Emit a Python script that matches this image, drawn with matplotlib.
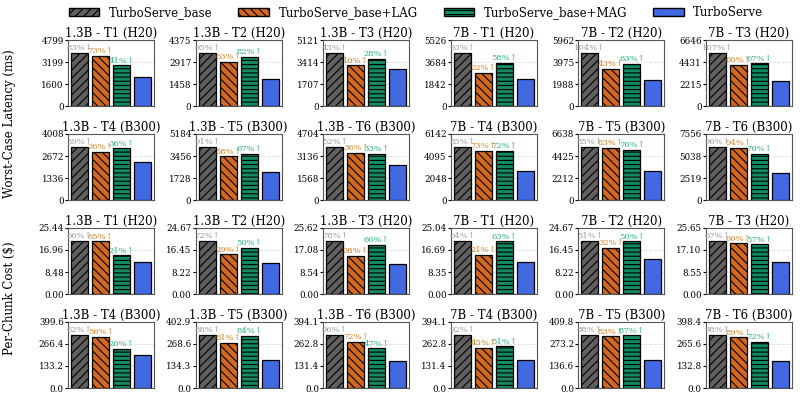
import matplotlib
matplotlib.use("Agg")
import matplotlib.pyplot as plt
import numpy as np
from matplotlib.patches import Patch

plt.rcParams['font.family'] = ['DejaVu Serif']
plt.rcParams['hatch.linewidth'] = 0.8

series = ["TurboServe_base", "TurboServe_base+LAG", "TurboServe_base+MAG", "TurboServe"]
titles = ["1.3B - T1 (H20)", "1.3B - T2 (H20)", "1.3B - T3 (H20)", "7B - T1 (H20)", "7B - T2 (H20)", "7B - T3 (H20)",
          "1.3B - T4 (B300)", "1.3B - T5 (B300)", "1.3B - T6 (B300)", "7B - T4 (B300)", "7B - T5 (B300)", "7B - T6 (B300)"]

# latency (ms): [base, LAG, MAG, TurboServe] per panel
lat_base = [3839, 3500, 4097, 4421, 4770, 5317, 3206, 4147, 3763, 4914, 5310, 6045]
lat_lag  = [3629, 2926, 3152, 2795, 3343, 4110, 2907, 3430, 3367, 4595, 5252, 5983]
lat_mag  = [2958, 3267, 3667, 3620, 3811, 4290, 3137, 3626, 3293, 4568, 5051, 5243]
lat_ts   = [2098, 1795, 2865, 2291, 2338, 2569, 2307, 2171, 2476, 2656, 2870, 3084]
lat_pb = [83, 95, 43, 93, 104, 107, 39, 91, 52, 85, 85, 96]
lat_pl = [73, 63, 10, 22, 43, 60, 26, 58, 36, 73, 83, 94]
lat_pm = [41, 82, 28, 58, 63, 67, 36, 67, 33, 72, 76, 70]

cost_base = [20.35, 19.74, 20.50, 20.03, 19.74, 20.52, 319.7, 322.3, 315.3, 315.3, 327.8, 318.7]
cost_lag  = [20.23, 14.80, 14.74, 14.78, 17.26, 19.66, 307.8, 276.0, 276.7, 238.1, 319.1, 304.2]
cost_mag  = [14.83, 17.21, 19.11, 19.91, 19.61, 19.29, 236.8, 315.4, 236.5, 248.0, 326.1, 276.9]
cost_ts   = [12.26, 11.47, 11.51, 12.21, 13.07, 12.29, 197.3, 171.4, 160.9, 164.2, 174.4, 161.0]
cost_pb = [66, 72, 78, 64, 51, 67, 62, 88, 96, 92, 88, 98]
cost_pl = [65, 29, 28, 21, 32, 60, 56, 61, 72, 45, 83, 89]
cost_pm = [21, 50, 66, 63, 50, 57, 20, 84, 47, 51, 87, 72]

colors = ["#606060", "#d2691e", "#138a63", "#4169e1"]
hatches = ["////", "\\\\\\\\", "----", ""]
txtcol = ["#999999", "#d98022", "#2bb084"]

fig, axes = plt.subplots(4, 6, figsize=(8, 4), dpi=100)
fig.subplots_adjust(left=0.085, right=0.99, top=0.9, bottom=0.03, wspace=0.48, hspace=0.42)

def draw(ax, vals, pcts, title, fmt):
    x = np.arange(4)
    for i in range(4):
        ax.bar(x[i], vals[i], width=0.8, color=colors[i], hatch=hatches[i],
               edgecolor="black", linewidth=0.9)
    ymax = max(vals) * 1.25
    ax.set_ylim(0, ymax)
    ax.set_xlim(-0.55, 3.55)
    ticks = np.linspace(0, ymax, 4)
    ax.set_yticks(ticks)
    ax.set_yticklabels([fmt(t) for t in ticks], fontsize=6.3)
    ax.set_xticks([])
    ax.tick_params(axis='y', length=2, pad=1)
    ax.grid(axis='y', linestyle='--', color='#dddddd', linewidth=0.6)
    ax.set_axisbelow(True)
    for s in ax.spines.values():
        s.set_color('#555555')
    for i in range(3):
        ax.text(x[i], vals[i] + ymax * 0.012, f"{pcts[i]}%↑", color=txtcol[i],
                ha='center', va='bottom', fontsize=6)
    ax.set_title(title, fontsize=8.5, pad=2)

for k in range(12):
    r, c = divmod(k, 6)
    draw(axes[r, c], [lat_base[k], lat_lag[k], lat_mag[k], lat_ts[k]],
         [lat_pb[k], lat_pl[k], lat_pm[k]], titles[k], lambda t: f"{t:.0f}")
    dec = 2 if k < 6 else 1
    draw(axes[r + 2, c], [cost_base[k], cost_lag[k], cost_mag[k], cost_ts[k]],
         [cost_pb[k], cost_pl[k], cost_pm[k]], titles[k],
         (lambda t: f"{t:.2f}") if dec == 2 else (lambda t: f"{t:.1f}"))

fig.text(0.012, 0.69, "Worst-Case Latency (ms)", rotation=90, va='center', ha='center', fontsize=8.5)
fig.text(0.012, 0.255, "Per-Chunk Cost ($)", rotation=90, va='center', ha='center', fontsize=8.5)

handles = [Patch(facecolor=colors[i], hatch=hatches[i], edgecolor='black', label=series[i]) for i in range(4)]
fig.legend(handles=handles, loc='upper center', ncol=4, frameon=False, fontsize=8.5,
           bbox_to_anchor=(0.52, 1.012), handlelength=2.6, columnspacing=2.2)

fig.savefig("out.png", dpi=100)
